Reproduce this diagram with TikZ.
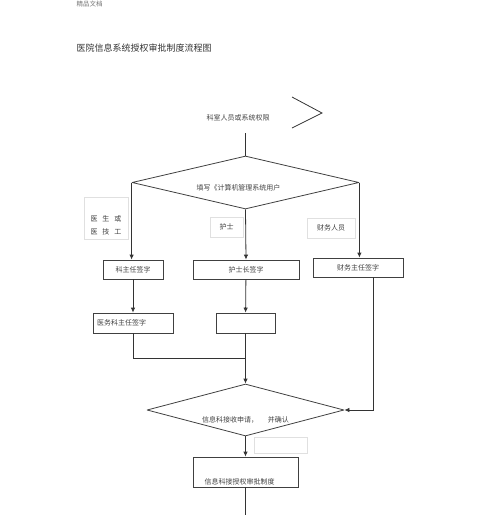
\documentclass[tikz,border=0pt]{standalone}
\usepackage{fontspec}
\setmainfont{Noto Sans CJK SC}
\usetikzlibrary{shapes.geometric,arrows.meta}

\begin{document}
\begin{tikzpicture}[x=1pt, y=-1pt, line width=0.8pt,
            every node/.style={font=\fontsize{7}{8}\selectfont, text=black!75},
            box/.style={draw=black!75, rectangle, inner sep=0pt, minimum height=19pt},
            decide/.style={draw=black!75, diamond, inner sep=0pt, line join=round},
            faint/.style={draw=black!12, rectangle, inner sep=0pt},
            flow/.style={-{Latex[length=5pt,width=4.5pt]}, draw=black!80}]
            \useasboundingbox (0,0) rectangle (500,515);
            \node [anchor=west, text=black!55, font=\fontsize{6.5}{7}\selectfont] (head) at (73,4) {精品文档};
            \node [anchor=west, text=black!80, font=\fontsize{9}{10}\selectfont] (title) at (73,48) {医院信息系统授权审批制度流程图};
            \node [minimum height=30pt] (ksry) at (238,118) {科室人员或系统权限};
            \draw[black!80] (292,97) -- (322,113) -- (292,128);
            \node [decide, minimum width=227pt, minimum height=53pt, label={[xshift=-7pt,yshift=-5.5pt]center:{填写《计算机管理系统用户}}] (d1) at (245.5,182.5) {};
            \node [faint, minimum width=44pt, minimum height=42pt, label={[yshift=-7.5pt, align=left, font=\fontsize{7}{13}\selectfont]center:{医\hspace{5pt}生\hspace{5pt}或\\医\hspace{5pt}技\hspace{5pt}工}}] (ysjg) at (106,218) {};
            \node [faint, minimum width=33pt, minimum height=20pt] (hs) at (226.5,227) {护士};
            \node [faint, minimum width=48pt, minimum height=20pt] (cwry) at (331,228) {财务人员};
            \node [box, minimum width=60pt] (kzr) at (133,269.5) {科主任签字};
            \node [box, minimum width=106pt] (hszz) at (246,269.5) {护士长签字};
            \node [box, minimum width=90pt] (cwzr) at (358,267.5) {财务主任签字};
            \node [box, minimum width=80pt, minimum height=20pt, text width=72pt, align=left] (ywkzr) at (133,323) {医务科主任签字};
            \node [box, minimum width=59pt, minimum height=20pt] (hsbox) at (245.5,323) {};
            \coordinate (hui) at (245.5,358);
            \node [decide, minimum width=197pt, minimum height=52pt, label={[yshift=-10pt]center:{信息科接收申请，\hspace{10pt}并确认}}] (d2) at (245.5,410) {};
            \node [faint, minimum width=53pt, minimum height=16pt] (kong) at (280.5,445) {};
            \node [box, minimum width=105pt, minimum height=30pt, label={[xshift=-6pt,yshift=-10pt]center:{信息科接授权审批制度}}] (xxk) at (245.5,472) {};
            \coordinate (end) at (245.5,515);
            \draw[black!80] (d1.north |- ksry.south) -- (d1.north);
            \draw[flow] (d1.west) -- (d1.west |- kzr.north);
            \draw[flow] (d1.south) -- (hszz.north);
            \draw[flow] (d1.east) -- (d1.east |- cwzr.north);
            \draw[flow] (kzr) -- (ywkzr);
            \draw[flow] (hszz) -- (hsbox);
            \draw[black!80] (ywkzr.south) |- (hui);
            \draw[flow] (hsbox) -- (d2);
            \draw[flow] ([xshift=15pt]cwzr.south) |- (d2.east);
            \draw[flow] (d2) -- (xxk);
            \draw[black!80] (xxk.south) -- (end);
        \end{tikzpicture}
\end{document}
